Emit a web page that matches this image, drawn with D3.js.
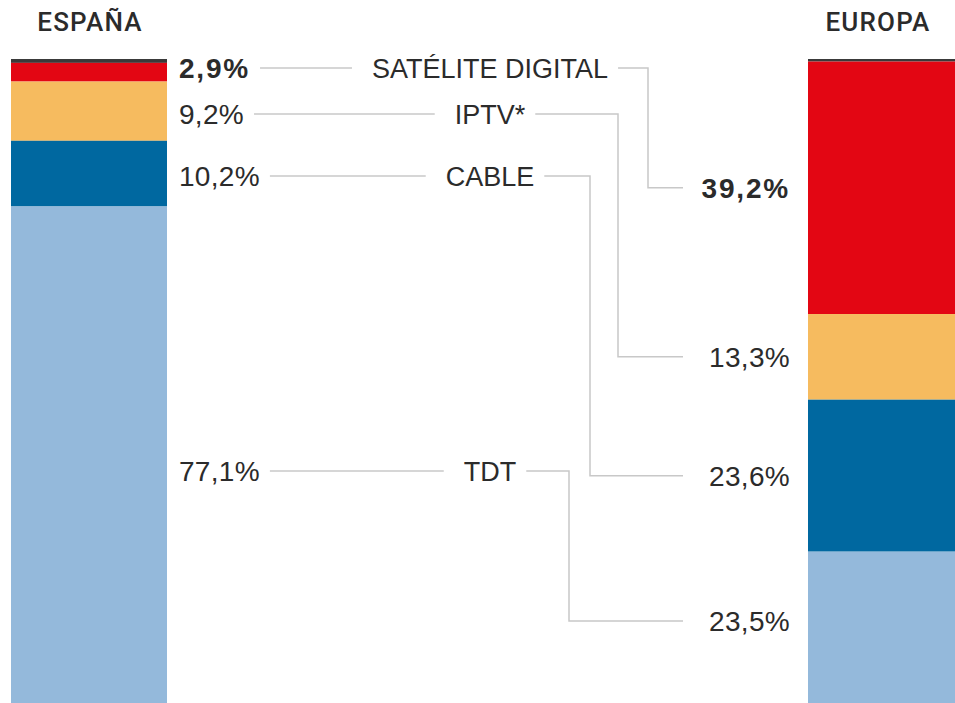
<!DOCTYPE html>
<html><head><meta charset="utf-8">
<script src="https://cdn.jsdelivr.net/npm/d3@7"></script>
<style>body{margin:0;background:#fff;overflow:hidden}text{font-family:"Liberation Sans",Arial,sans-serif;fill:#2b2b2b}</style>
</head><body><svg id="c" width="955" height="703"></svg>
<script>
// ---- data ----
const categories = ["OTROS", "SATÉLITE DIGITAL", "IPTV*", "CABLE", "TDT"];
const espana = [0.6, 2.9, 9.2, 10.2, 77.1];
const europa = [0.4, 39.2, 13.3, 23.6, 23.5];
const regions = ["ESPAÑA", "EUROPA"];
const valueLabels = {
  espana: ["", "2,9%", "9,2%", "10,2%", "77,1%"],
  europa: ["", "39,2%", "13,3%", "23,6%", "23,5%"]
};

// ---- layout / style ----
const colors = ["#3a3a3a", "#e30613", "#f6bb5f", "#0068a0", "#94b9db"];
const svg = d3.select("#c");
const y = d3.scaleLinear().domain([0, 100]).range([59, 703]);
const barW = 156;
const xL = 11, xR = 808;
const leftLabelY = [null, 68, 114, 176, 471];       // label rows (adjusted to avoid overlap)
const vertX = [null, 648, 618, 590, 569];           // elbow x of right connectors
const catCX = 490, leftTextX = 179, rightTextX = 790, rightLineEnd = 683;
const lineColor = "#c8c8c8";

function stack(vals) {
  let acc = 0;
  return vals.map(v => { const s = acc; acc += v; return {y0: s, y1: acc, v}; });
}
const sL = stack(espana), sR = stack(europa);

svg.append("g").selectAll("rect").data(sL).join("rect")
  .attr("x", xL).attr("width", barW)
  .attr("y", d => y(d.y0)).attr("height", d => y(d.y1) - y(d.y0))
  .attr("fill", (d, i) => colors[i]);
svg.append("g").selectAll("rect").data(sR).join("rect")
  .attr("x", xR).attr("width", barW)
  .attr("y", d => y(d.y0)).attr("height", d => y(d.y1) - y(d.y0))
  .attr("fill", (d, i) => colors[i]);

// titles
svg.append("text").text(regions[0]).attr("x", 90).attr("y", 31)
  .attr("text-anchor", "middle").attr("font-size", 26).attr("font-weight", 500)
  .style("font-family", "Roboto").attr("letter-spacing", 1.2);
svg.append("text").text(regions[1]).attr("x", 878).attr("y", 31)
  .attr("text-anchor", "middle").attr("font-size", 26).attr("font-weight", 500)
  .style("font-family", "Roboto").attr("letter-spacing", 1.2);

const g = svg.append("g");
for (let i = 1; i < categories.length; i++) {
  const ly = leftLabelY[i];
  const bold = i === 1;
  const tl = g.append("text").text(valueLabels.espana[i])
    .attr("x", leftTextX).attr("y", ly).attr("dy", "0.36em")
    .attr("font-size", 28).attr("font-weight", bold ? 700 : 400)
    .attr("letter-spacing", bold ? 1.8 : 0.3);
  const tlEnd = leftTextX + tl.node().getComputedTextLength();
  const tc = g.append("text").text(categories[i])
    .attr("x", catCX).attr("y", ly).attr("dy", "0.36em")
    .attr("text-anchor", "middle").attr("font-size", 27);
  const cw = tc.node().getComputedTextLength();
  g.append("line").attr("x1", tlEnd + 10).attr("x2", catCX - cw / 2 - 20)
    .attr("y1", ly).attr("y2", ly).attr("stroke", lineColor).attr("stroke-width", 1.5);
  const ry = (y(sR[i].y0) + y(sR[i].y1)) / 2;
  const ryy = Math.min(ry, 621);
  g.append("path")
    .attr("d", d3.line()([[catCX + cw / 2 + 10, ly], [vertX[i], ly], [vertX[i], ryy], [rightLineEnd, ryy]]))
    .attr("fill", "none").attr("stroke", lineColor).attr("stroke-width", 1.5);
  g.append("text").text(valueLabels.europa[i])
    .attr("x", rightTextX).attr("y", ryy).attr("dy", "0.36em")
    .attr("text-anchor", "end").attr("font-size", 28).attr("font-weight", bold ? 700 : 400)
    .attr("letter-spacing", bold ? 1.8 : 0.3);
}
</script></body></html>
